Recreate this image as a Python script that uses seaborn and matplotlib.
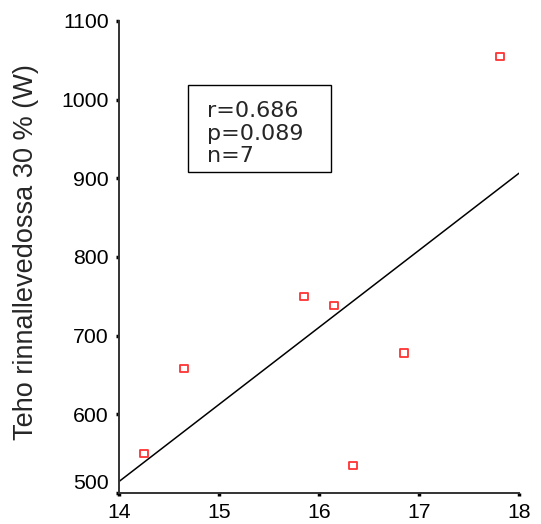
import matplotlib
matplotlib.use("Agg")
import matplotlib.pyplot as plt
from matplotlib.patches import Rectangle
import seaborn as sns
import pandas as pd

# data
x_vals = [14.25, 14.65, 15.85, 16.15, 16.34, 16.85, 17.81]
y_vals = [550, 658, 750, 738, 535, 678, 1055]
x_ticks = [14, 15, 16, 17, 18]
y_ticks = [500, 600, 700, 800, 900, 1000, 1100]
y_label = "Teho rinnallevedossa 30 % (W)"
stats_lines = ["r=0.686", "p=0.089", "n=7"]

df = pd.DataFrame({"x": x_vals, "y": y_vals})

sns.set_style("ticks")
plt.rcParams["font.family"] = ["Liberation Sans", "DejaVu Sans"]

fig = plt.figure(figsize=(5.41, 5.24), dpi=100)
ax = fig.add_axes([119 / 541, 31 / 524, 400 / 541, 472 / 524])
ax.set_xlim(14, 18)
ax.set_ylim(500, 1100)

sns.regplot(data=df, x="x", y="y", ax=ax, ci=None, truncate=False,
            marker="s",
            scatter_kws=dict(s=28, facecolors="none",
                             edgecolors="#ff0000", linewidths=1.3),
            line_kws=dict(color="black", lw=1.1))

ax.set_xlim(14, 18)
ax.set_ylim(500, 1100)
ax.set_xticks(x_ticks)
ax.set_yticks(y_ticks)
ax.set_xticklabels([str(t) for t in x_ticks], fontsize=15.3)
ax.set_yticklabels([str(t) for t in y_ticks], fontsize=15.3)
for lab in ax.get_yticklabels():
    if lab.get_text() == "500":
        lab.set_va("bottom")
ax.set_xlabel("")
ax.set_ylabel(y_label, fontsize=19.5)
ax.yaxis.set_label_coords(-0.2, 0.51)

for s in ["top", "right"]:
    ax.spines[s].set_visible(False)
for s in ["left", "bottom"]:
    ax.spines[s].set_color("#333333")
    ax.spines[s].set_linewidth(1.4)
ax.tick_params(direction="out", length=2.5, width=2.5, color="black",
               labelcolor="black")
ax.tick_params(axis="x", pad=5)
ax.tick_params(axis="y", pad=5)

ax.add_patch(Rectangle((0.1725, 0.680), 0.3575, 0.184, transform=ax.transAxes,
                       facecolor="white", edgecolor="black", linewidth=1.0,
                       zorder=5))
for txt, yb in zip(stats_lines, [0.7966, 0.748, 0.701]):
    ax.text(0.22, yb, txt, transform=ax.transAxes, fontsize=16,
            family="DejaVu Sans", va="baseline", ha="left", zorder=6)

fig.savefig("out.png", dpi=100)
